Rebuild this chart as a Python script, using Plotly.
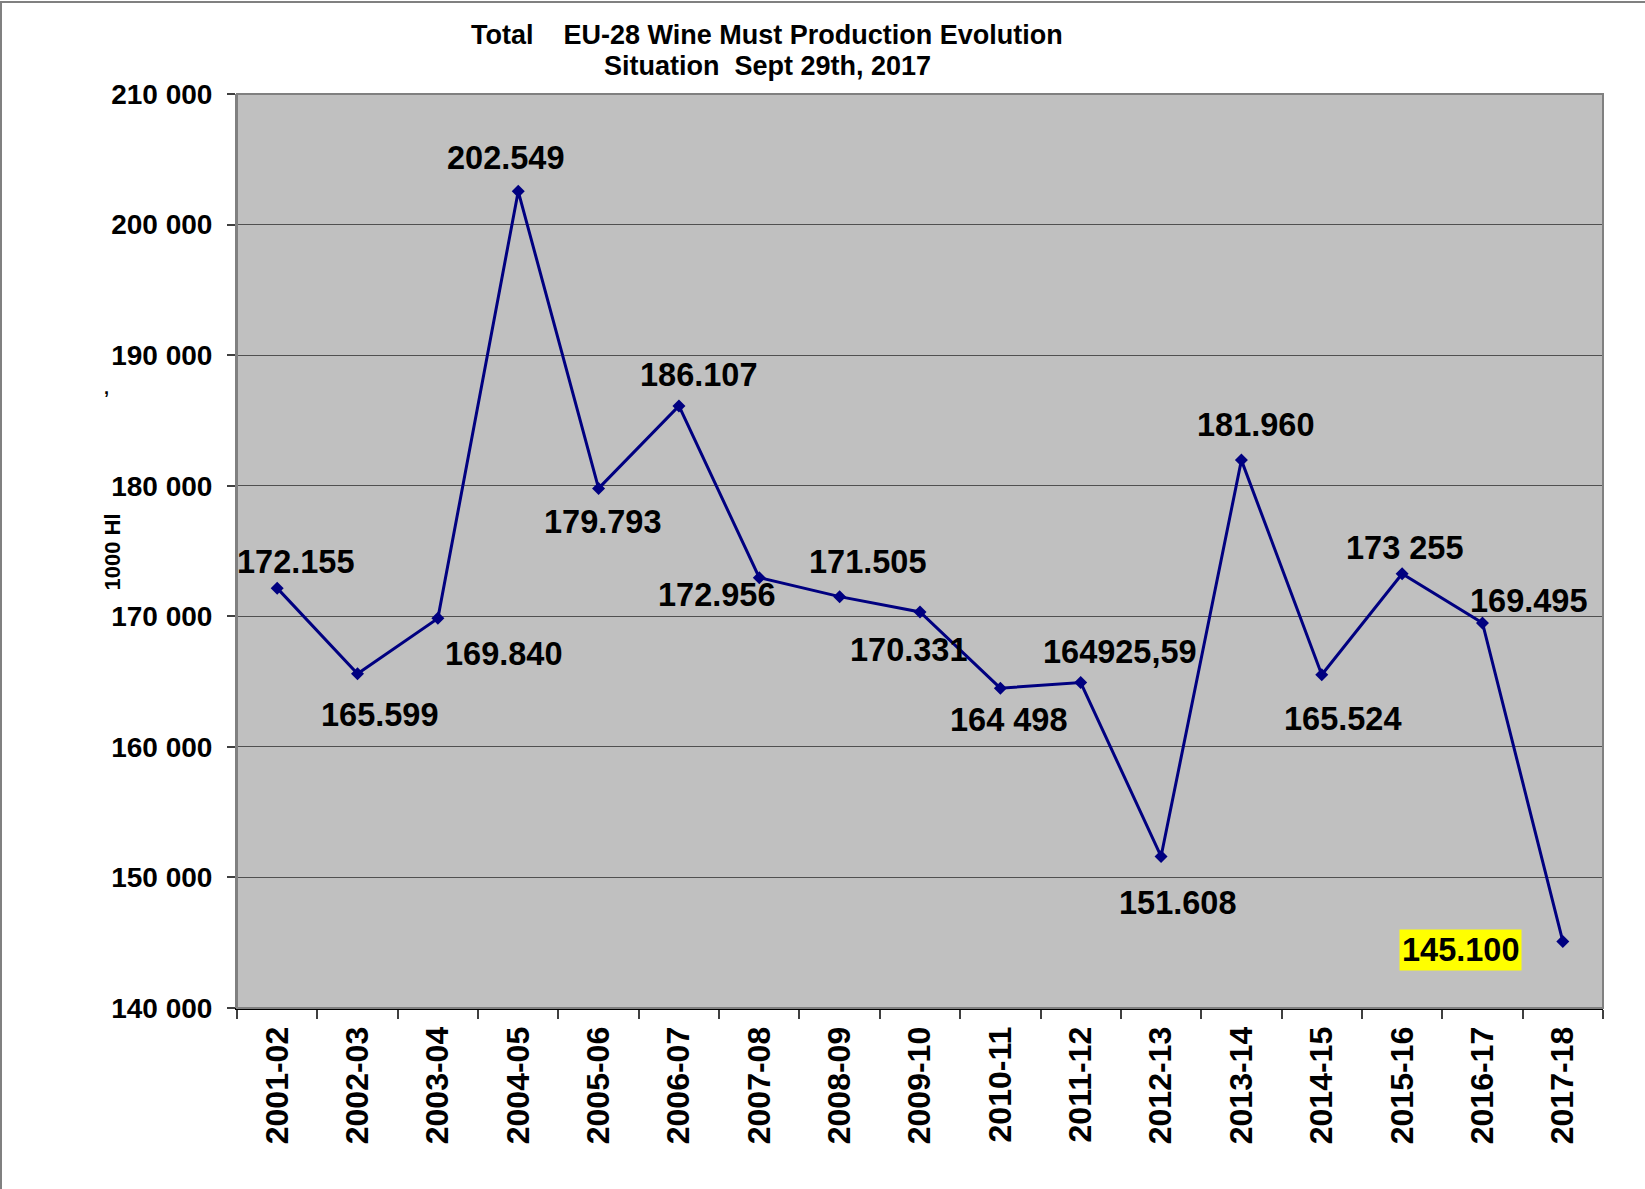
import plotly.graph_objects as go

seasons = ["2001-02", "2002-03", "2003-04", "2004-05", "2005-06", "2006-07", "2007-08",
           "2008-09", "2009-10", "2010-11", "2011-12", "2012-13", "2013-14", "2014-15",
           "2015-16", "2016-17", "2017-18"]
production = [172155, 165599, 169840, 202549, 179793, 186107, 172956, 171505, 170331,
              164498, 164925.59, 151608, 181960, 165524, 173255, 169495, 145100]
value_labels = ["172.155", "165.599", "169.840", "202.549", "179.793", "186.107", "172.956",
                "171.505", "170.331", "164 498", "164925,59", "151.608", "181.960", "165.524",
                "173 255", "169.495", "145.100"]
y_ticks = [140000, 150000, 160000, 170000, 180000, 190000, 200000, 210000]
title_lines = ["Total\u00a0\u00a0\u00a0\u00a0EU-28 Wine Must Production Evolution",
               "Situation\u00a0\u00a0Sept 29th, 2017"]

# label offsets (pixels) relative to each point
label_dx = [18, 22, 66, -13, 4, 20, -43, 28, -12, 8, 39, 16, 14, 21, 2, 46, -102]
label_dy = [26, -41, -36, 33, -34, 31, -17, 35, -38, -32, 31, -47, 35, -44, 26, 22, -9]
highlight_index = 16

W, H = 1645, 1189
L, R, T, B = 237, 42, 94, 181
PW, PH = W - L - R, H - T - B
FONT = "Liberation Sans, Arial, sans-serif"


def px_x(x):
    return (x - L) / PW


def px_y(y):
    return (T + PH - y) / PH


fig = go.Figure()
fig.add_trace(go.Scatter(
    x=seasons, y=production, mode="lines+markers",
    line=dict(color="#000080", width=3),
    marker=dict(symbol="diamond", size=10, color="#000080"),
    hoverinfo="skip", showlegend=False,
))

annotations = []
for i, (s, v, t) in enumerate(zip(seasons, production, value_labels)):
    a = dict(x=s, y=v, xref="x", yref="y", text=t, showarrow=False,
             xshift=label_dx[i], yshift=label_dy[i],
             font=dict(family=FONT, size=32.5, color="black", weight="bold"))
    if i == highlight_index:
        a.update(bgcolor="#FFFF00", borderpad=2)
    annotations.append(a)

for line_text, cy in zip(title_lines, [35, 66]):
    annotations.append(dict(
        x=px_x(767), y=px_y(cy), xref="paper", yref="paper", xanchor="center", yanchor="middle",
        text=line_text, showarrow=False,
        font=dict(family=FONT, size=27, color="black", weight="bold")))

annotations.append(dict(
    x=px_x(97), y=px_y(552), xref="paper", yref="paper",
    text="1000 Hl", textangle=-90, showarrow=False,
    font=dict(family=FONT, size=22, color="black", weight="bold")))
annotations.append(dict(
    x=px_x(102), y=px_y(376), xref="paper", yref="paper",
    text=",", showarrow=False,
    font=dict(family=FONT, size=18, color="black", weight="bold")))

shapes = [
    # plot area border (top & right)
    dict(type="rect", xref="paper", yref="paper", x0=0, x1=1, y0=0, y1=1,
         line=dict(color="#808080", width=2), layer="above"),
    # outer chart border (top and left)
    dict(type="line", xref="paper", yref="paper",
         x0=px_x(0), x1=px_x(W), y0=px_y(2), y1=px_y(2),
         line=dict(color="#808080", width=2)),
    dict(type="line", xref="paper", yref="paper",
         x0=px_x(1), x1=px_x(1), y0=px_y(H), y1=px_y(1),
         line=dict(color="#808080", width=2)),
]

fig.update_layout(
    width=W, height=H,
    margin=dict(l=L, r=R, t=T, b=B),
    paper_bgcolor="white", plot_bgcolor="#C0C0C0",
    separators=". ",
    annotations=annotations,
    shapes=shapes,
    xaxis=dict(
        type="category", range=[-0.5, len(seasons) - 0.5],
        tickangle=-90, tickson="boundaries", ticks="outside", ticklen=9,
        tickcolor="#404040", tickwidth=1.5,
        showline=True, linecolor="black", linewidth=2,
        showgrid=False, ticklabelstandoff=4,
        tickfont=dict(family=FONT, size=32, color="black", weight="bold"),
    ),
    yaxis=dict(
        range=[140000, 210000], tickvals=y_ticks, tickformat=",d",
        ticks="outside", ticklen=8, tickcolor="#404040", tickwidth=1.5,
        showline=True, linecolor="#808080", linewidth=2,
        showgrid=True, gridcolor="#505050", gridwidth=1,
        zeroline=False, ticklabelstandoff=9,
        tickfont=dict(family=FONT, size=28, color="black", weight="bold"),
    ),
)

fig.write_html("out.html", config={"displayModeBar": False},
               post_script="document.body.style.margin='0px';")
